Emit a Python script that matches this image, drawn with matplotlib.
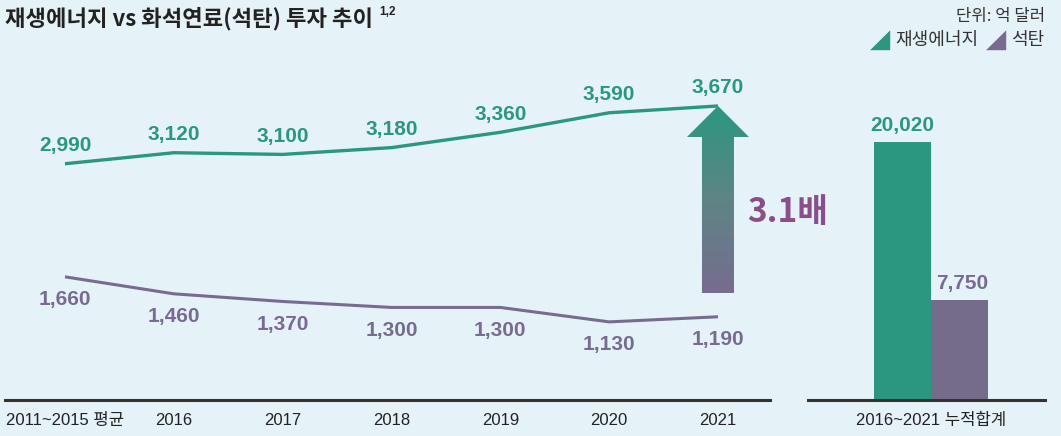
import matplotlib
matplotlib.use("Agg")
import matplotlib.pyplot as plt
import numpy as np
from matplotlib.patches import Polygon
from matplotlib.colors import LinearSegmentedColormap

plt.rcParams['font.family'] = ['Liberation Sans', 'Noto Sans CJK KR', 'DejaVu Sans']

# data (unit: 100M USD)
periods = ["2011~2015 평균", "2016", "2017", "2018", "2019", "2020", "2021"]
renewable = [2990, 3120, 3100, 3180, 3360, 3590, 3670]
coal = [1660, 1460, 1370, 1300, 1300, 1130, 1190]
total_label = "2016~2021 누적합계"
total_renewable = 20020
total_coal = 7750
ratio_text = "3.1배"

GREEN = "#2B9780"
PURPLE = "#776C8F"
BG = "#E5F2F8"
W, H = 1061, 436

def fx(px):
    return px / W

def fy(py):
    return 1 - py / H

fig = plt.figure(figsize=(W / 100, H / 100), dpi=100, facecolor=BG)

tickfont = ['Liberation Sans', 'Noto Sans CJK KR', 'DejaVu Sans']

# ---- line chart ----
ax = fig.add_axes([fx(5), fy(400), fx(765), 360 / H])
ax.set_facecolor(BG)
x = np.arange(len(periods))
ax.plot(x, renewable, color=GREEN, lw=2.4, solid_capstyle='butt')
ax.plot(x, coal, color=PURPLE, lw=2.2, solid_capstyle='butt')
for xi, v in zip(x, renewable):
    ax.annotate(f"{v:,}", (xi, v), xytext=(0, 13), textcoords='offset points',
                ha='center', va='center', fontsize=15, fontweight='bold', color=GREEN)
for xi, v in zip(x, coal):
    ax.annotate(f"{v:,}", (xi, v), xytext=(0, -16.5), textcoords='offset points',
                ha='center', va='center', fontsize=15, fontweight='bold', color=PURPLE)

# gradient arrow from coal level up to the 2021 renewable value
tip = renewable[-1]
head_base = tip - 365
shaft_bottom = tip - 2200
hw, sw = 0.285, 0.147
xa = x[-1]
arrow_pts = [(xa - sw, shaft_bottom), (xa - sw, head_base), (xa - hw, head_base),
             (xa, tip), (xa + hw, head_base), (xa + sw, head_base), (xa + sw, shaft_bottom)]
poly = Polygon(arrow_pts, closed=True, facecolor='none', edgecolor='none')
ax.add_patch(poly)
cmap = LinearSegmentedColormap.from_list("g", [PURPLE, "#5E8585", GREEN])
grad = np.linspace(0, 1, 256).reshape(-1, 1)
im = ax.imshow(grad, cmap=cmap, origin='lower', aspect='auto',
               extent=[xa - hw, xa + hw, shaft_bottom, tip], zorder=3)
im.set_clip_path(poly)
ax.set_xlim(-0.551, 6.478)
ax.set_ylim(211, 4446)

ax.set_xticks(x)
ax.set_xticklabels(periods, family=tickfont, fontsize=12, color="#222222")
ax.tick_params(axis='x', length=0, pad=9)
ax.set_yticks([])
for s in ['top', 'right', 'left']:
    ax.spines[s].set_visible(False)
ax.spines['bottom'].set_color('#333333')
ax.spines['bottom'].set_linewidth(2.2)

# ---- cumulative bars ----
bx = fig.add_axes([fx(808), fy(400), fx(237), 360 / H])
bx.set_facecolor(BG)
bx.bar([0, 1], [total_renewable, total_coal], width=1.0, color=[GREEN, "#756B8A"])
bx.annotate(f"{total_renewable:,}", (0, total_renewable), xytext=(0, 11.5),
            textcoords='offset points', ha='center', va='center',
            fontsize=15, fontweight='bold', color=GREEN)
bx.annotate(f"{total_coal:,}", (1, total_coal), xytext=(2, 12),
            textcoords='offset points', ha='center', va='center',
            fontsize=15, fontweight='bold', color=PURPLE)
bx.set_xlim(-1.658, 2.5)
bx.set_ylim(0, 27930)
bx.set_xticks([0.5])
bx.set_xticklabels([total_label], family=tickfont, fontsize=12, color="#222222")
bx.tick_params(axis='x', length=0, pad=9)
bx.set_yticks([])
for s in ['top', 'right', 'left']:
    bx.spines[s].set_visible(False)
bx.spines['bottom'].set_color('#333333')
bx.spines['bottom'].set_linewidth(2.2)

# ---- texts ----
fig.text(fx(747), fy(212), ratio_text, family=['Noto Sans CJK KR'],
         fontsize=24, fontweight='bold', color="#8A4F8A", ha='left', va='center')
fig.text(fx(5), fy(19), "재생에너지 vs 화석연료(석탄) 투자 추이", family=['Noto Sans CJK KR'],
         fontsize=16, fontweight='bold', color="#222222", ha='left', va='center')
fig.text(fx(379), fy(12), "1,2", fontsize=8.5, fontweight='bold', color="#222222",
         ha='left', va='center')
fig.text(fx(1045), fy(17), "단위: 억 달러", family=['Noto Sans CJK KR'], fontsize=12,
         color="#333333", ha='right', va='center')
fig.text(fx(870), fy(40), "◢", family=['DejaVu Sans'], fontsize=19, color=GREEN,
         ha='left', va='center')
fig.text(fx(895), fy(40), "재생에너지", family=['Noto Sans CJK KR'], fontsize=13,
         color="#333333", ha='left', va='center')
fig.text(fx(986), fy(40), "◢", family=['DejaVu Sans'], fontsize=19, color=PURPLE,
         ha='left', va='center')
fig.text(fx(1011), fy(40), "석탄", family=['Noto Sans CJK KR'], fontsize=13,
         color="#333333", ha='left', va='center')

fig.savefig("out.png", dpi=100, facecolor=BG)
